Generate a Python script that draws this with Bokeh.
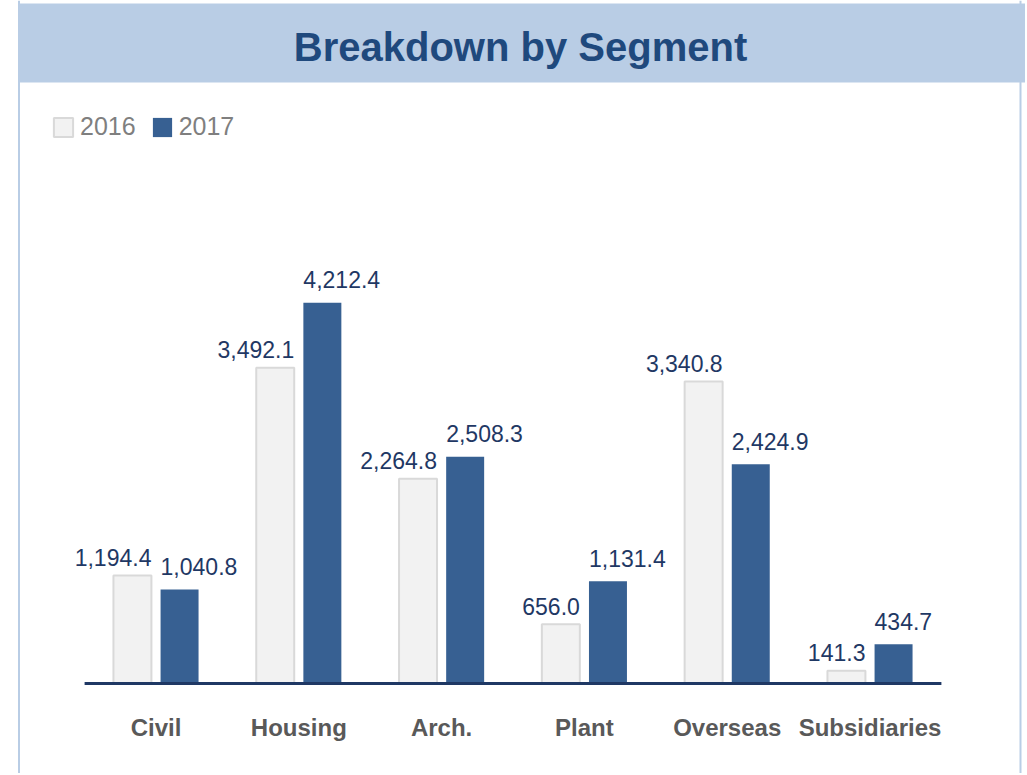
from bokeh.plotting import figure
from bokeh.models import (ColumnDataSource, FactorRange, Range1d, BoxAnnotation,
                          Span, Legend, LegendItem)
from bokeh.transform import dodge
from bokeh.core.properties import value
from bokeh.embed import file_html
from bokeh.resources import INLINE

# ---- data ----
categories = ["Civil", "Housing", "Arch.", "Plant", "Overseas", "Subsidiaries"]
values_2016 = [1194.4, 3492.1, 2264.8, 656.0, 3340.8, 141.3]
values_2017 = [1040.8, 4212.4, 2508.3, 1131.4, 2424.9, 434.7]
series_names = ["2016", "2017"]
title_text = "Breakdown by Segment"

# ---- layout constants ----
W, H = 1025, 773
X_PX = 142.8                          # pixels per category
X_PAD = (W / X_PX - len(categories)) / 2
UPP = 11.06                           # data units per pixel (vertical)
BASE_CY = 683                         # canvas y of zero line
Y_TOP = BASE_CY * UPP
Y_BOT = -(H - BASE_CY) * UPP

def px_x(cx):
    return -X_PAD + cx / X_PX

def px_y(cy):
    return Y_TOP - cy * UPP

FONT_NAME = "Liberation Sans"
FONT = value(FONT_NAME)
BLUE = "#376092"
LIGHT = "#F2F2F2"
LIGHT_LINE = "#D9D9D9"
BAND = "#B9CDE5"
NAVY = "#1F3864"

src = ColumnDataSource(dict(
    cat=categories,
    v16=values_2016,
    v17=values_2017,
    l16=[f"{v:,.1f}" for v in values_2016],
    l17=[f"{v:,.1f}" for v in values_2017],
))

x_range = FactorRange(factors=categories, range_padding=X_PAD,
                      range_padding_units="absolute")
p = figure(width=W, height=H, x_range=x_range, y_range=Range1d(Y_BOT, Y_TOP),
           output_backend="svg", toolbar_location=None,
           x_axis_location=None, y_axis_location=None,
           min_border=0, min_border_left=0, min_border_right=0,
           min_border_top=0, min_border_bottom=0)
p.outline_line_color = None
p.grid.visible = False
p.background_fill_color = "white"
p.border_fill_color = "white"

# header band and panel borders
p.add_layout(BoxAnnotation(left=px_x(18), top=px_y(3), bottom=px_y(82),
                           fill_color=BAND, fill_alpha=1, line_color=None,
                           level="underlay"))
p.add_layout(Span(location=px_x(18.5), dimension="height", line_color=BAND,
                  line_width=2, level="underlay"))
p.add_layout(Span(location=px_x(1020), dimension="height", line_color=BAND,
                  line_width=2, level="underlay"))

# title
p.text(x=[px_x(520)], y=[px_y(46)], text=[title_text],
       text_font=FONT, text_font_style="bold",
       text_font_size="40px", text_color="#1F497D",
       text_align="center", text_baseline="alphabetic")

BW = 0.266
OFF = 0.165
r16 = p.vbar(x=dodge("cat", -OFF, range=p.x_range), top="v16", bottom=0,
             width=BW, source=src, fill_color=LIGHT, line_color=LIGHT_LINE,
             line_width=2)
r17 = p.vbar(x=dodge("cat", OFF, range=p.x_range), top="v17", bottom=0,
             width=BW, source=src, fill_color=BLUE, line_color=None)

# baseline
p.segment(x0=[0], x1=[len(categories)], y0=[0], y1=[0], line_color=NAVY,
          line_width=3)

# value labels
p.text(x=dodge("cat", -OFF + BW / 2, range=p.x_range), y="v16", text="l16",
       source=src, text_font=FONT, text_font_size="23px", text_color=NAVY,
       text_align="right", text_baseline="alphabetic", y_offset=-18)
p.text(x=dodge("cat", OFF - BW / 2, range=p.x_range), y="v17", text="l17",
       source=src, text_font=FONT, text_font_size="23px", text_color=NAVY,
       text_align="left", text_baseline="alphabetic", y_offset=-23)

# category labels
p.text(x="cat", y=px_y(727), text="cat", source=src, text_font=FONT,
       text_font_style="bold", text_font_size="24px", text_color="#595959",
       text_align="center", text_baseline="middle")

legend = Legend(items=[LegendItem(label=series_names[0], renderers=[r16]),
                       LegendItem(label=series_names[1], renderers=[r17])],
                orientation="horizontal", location=(51, H - 141),
                label_text_font=FONT_NAME, label_text_font_size="25px",
                label_text_color="#7F7F7F", glyph_width=24, glyph_height=24,
                label_standoff=5, spacing=14, padding=0, margin=0,
                border_line_color=None, background_fill_alpha=0)
p.add_layout(legend)

open("out.html", "w").write(file_html(p, INLINE))
